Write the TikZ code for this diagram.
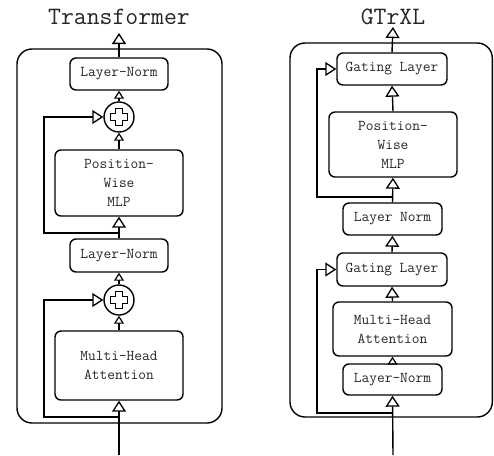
\documentclass[tikz,border=0pt]{standalone}
\usetikzlibrary{arrows.meta,calc}
\tikzset{
  blk/.style={draw, line width=1.4pt, rounded corners=6pt, align=center,
    inner sep=0pt, font=\ttfamily\fontsize{15}{19}\selectfont, text=black!85},
  addop/.style={draw, circle, line width=1.4pt, minimum size=30pt, inner sep=0pt},
  frame/.style={draw, line width=1.4pt, rounded corners=15pt},
  ttl/.style={font=\ttfamily\fontsize{25}{27}\selectfont, text=black!85},
  flow/.style={line width=1.4pt, -{Triangle[open, width=14pt, length=11pt, line width=1.3pt]}},
  sflow/.style={line width=1.4pt, -{Triangle[open, width=10pt, length=8pt, line width=1.2pt]}},
}
\newcommand{\plussign}[1]{%
  \draw[line width=1.3pt] ($(#1)+(-3.5,-8.5)$) -- ++(7,0) -- ++(0,5) -- ++(5,0) -- ++(0,7)
    -- ++(-5,0) -- ++(0,5) -- ++(-7,0) -- ++(0,-5) -- ++(-5,0) -- ++(0,-7) -- ++(5,0) -- cycle;}
\begin{document}
\begin{tikzpicture}[x=1pt, y=-1pt]
\useasboundingbox (0,0) rectangle (494,455);

% ---------------- Transformer ----------------
\node[ttl] (ttitle) at (119,17) {Transformer};
\draw[frame] (17,49) rectangle (222,423);
\node[blk, minimum width=98pt, minimum height=32pt] (tlnB) at (119,74) {Layer-Norm};
\node[addop] (taddB) at (119,117) {};
\plussign{taddB}
\node[blk, minimum width=128pt, minimum height=66pt] (tmlp) at (119,183) {Position-\\Wise\\MLP};
\node[blk, minimum width=98pt, minimum height=33pt] (tlnA) at (119,255.5) {Layer-Norm};
\node[addop] (taddA) at (119,300) {};
\plussign{taddA}
\node[blk, minimum width=128pt, minimum height=69pt] (tmha) at (119,365.5) {Multi-Head\\Attention};

\coordinate (tin) at (119,455);
\coordinate (tout) at (119,33);
\coordinate (tsplitA) at (119,417);
\coordinate (tsplitB) at (119,233);

\draw[flow] (tin) -- (tmha.south);
\draw[sflow] (tmha.north) -- (taddA.south);
\draw[sflow] (taddA.north) -- (tlnA.south);
\draw[flow] (tlnA.north) -- (tmlp.south);
\draw[sflow] (tmlp.north) -- (taddB.south);
\draw[sflow] (taddB.north) -- (tlnB.south);
\draw[flow] (tlnB.north) -- (tout);
\draw[flow] (tsplitA) -- (44,417) -- (44,300) -- (taddA.west);
\draw[flow] (tsplitB) -- (44,233) -- (44,117) -- (taddB.west);

% ---------------- GTrXL ----------------
\node[ttl] (gtitle) at (393,17) {GTrXL};
\draw[frame] (290,43) rectangle (492.3,417);
\node[blk, minimum width=110pt, minimum height=32pt] (ggateB) at (392,69) {Gating Layer};
\node[blk, minimum width=128pt, minimum height=65pt] (gmlp) at (393,144.5) {Position-\\Wise\\MLP};
\node[blk, minimum width=99pt, minimum height=32pt] (glnB) at (392.5,219) {Layer Norm};
\node[blk, minimum width=110pt, minimum height=33pt] (ggateA) at (392,269.5) {Gating Layer};
\node[blk, minimum width=119pt, minimum height=54pt] (gmha) at (392.5,329) {Multi-Head\\Attention};
\node[blk, minimum width=99pt, minimum height=31pt] (glnA) at (392.5,379.5) {Layer-Norm};

\coordinate (gin) at (393,455);
\coordinate (gout) at (393,27);
\coordinate (gsplitA) at (393,413);
\coordinate (gsplitB) at (393,197);

\draw[flow] (gin) -- (glnA.south);
\draw[sflow] (glnA.north) -- (gmha.south);
\draw[flow] (gmha.north) -- (ggateA.south);
\draw[flow] (ggateA.north) -- (glnB.south);
\draw[flow] (glnB.north) -- (gmlp.south);
\draw[flow] (gmlp.north) -- (ggateB.south);
\draw[flow] (ggateB.north) -- (gout);
\draw[flow] (gsplitA) -- (317,413) -- (317,269.5) -- (ggateA.west);
\draw[flow] (gsplitB) -- (317,197) -- (317,69) -- (ggateB.west);
\end{tikzpicture}
\end{document}
